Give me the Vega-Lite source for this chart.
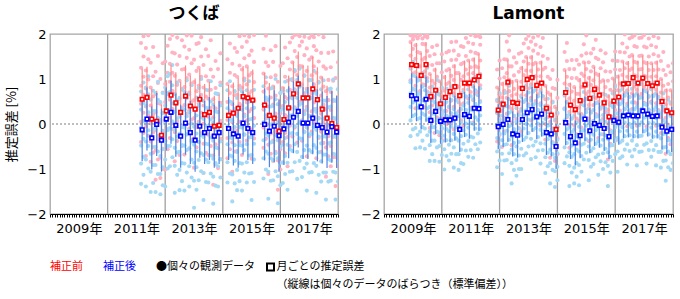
{
"$schema":"https://vega.github.io/schema/vega-lite/v6.json",
"background":"white",
"padding":{"left":5,"top":4,"right":3,"bottom":0},
"config":{
 "font":"DejaVu Sans, Noto Sans CJK JP, sans-serif",
 "view":{"stroke":"#A6A6A6","strokeWidth":1.3},
 "title":{"fontSize":17,"fontWeight":"bold","color":"#000","offset":5,"font":"DejaVu Sans, Noto Sans CJK JP, sans-serif"},
 "axis":{"labelFont":"DejaVu Sans, Noto Sans CJK JP, sans-serif","labelFontSize":13,"labelColor":"#000","grid":false,"titleFont":"Noto Sans CJK JP, sans-serif","titleFontSize":13,"titleFontWeight":"normal","titleColor":"#000"},
 "axisX":{"tickCount":{"interval":"month","step":1},"labelExpr":"utcmonth(datum.value)===0 && utcyear(datum.value)%2===1 ? utcyear(datum.value)+'年' : ''","labelOverlap":false,"labelFlush":false,"labelBound":false,"labelPadding":5,"tickSize":3,"tickColor":"#000","domainColor":"#000","domainWidth":1.2},
 "axisY":{"values":[-2,-1,0,1,2],"ticks":false,"domain":false,"labelPadding":4,"titlePadding":8}
},
"datasets":{
 "grid":[{"t":"2010-01-01"},{"t":"2012-01-01"},{"t":"2014-01-01"},{"t":"2016-01-01"}],
 "zero":[{"v":0}],
 "leg":[{"grp":"pre","ln":"1","item":"補正前"},{"grp":"post","ln":"1","item":"補正後"},{"grp":"obs","ln":"1","item":"●個々の観測データ"},{"grp":"mon","ln":"1","item":"月ごとの推定誤差"},{"grp":"mon","ln":"2","item":"（縦線は個々のデータのばらつき（標準偏差））"}],
 "sq":[
{"s":"T","t":"2011-03-15","r":0.55,"rs":0.68,"b":-0.13,"bs":0.7},
{"s":"T","t":"2011-05-15","r":0.59,"rs":0.68,"b":0.11,"bs":0.7},
{"s":"T","t":"2011-07-15","r":0.11,"rs":0.68,"b":-0.31,"bs":0.7},
{"s":"T","t":"2011-09-15","r":0.06,"rs":0.68,"b":-0.01,"bs":0.7},
{"s":"T","t":"2011-11-15","r":-0.25,"rs":0.68,"b":-0.36,"bs":0.7},
{"s":"T","t":"2012-01-15","r":0.29,"rs":0.68,"b":0.11,"bs":0.7},
{"s":"T","t":"2012-03-15","r":0.64,"rs":0.68,"b":0.26,"bs":0.7},
{"s":"T","t":"2012-05-15","r":0.47,"rs":0.68,"b":-0.03,"bs":0.7},
{"s":"T","t":"2012-07-15","r":0.26,"rs":0.68,"b":-0.27,"bs":0.7},
{"s":"T","t":"2012-09-15","r":0.62,"rs":0.68,"b":0.02,"bs":0.7},
{"s":"T","t":"2012-11-15","r":0.40,"rs":0.68,"b":-0.19,"bs":0.7},
{"s":"T","t":"2013-01-15","r":0.33,"rs":0.68,"b":-0.36,"bs":0.7},
{"s":"T","t":"2013-03-15","r":0.55,"rs":0.68,"b":-0.05,"bs":0.7},
{"s":"T","t":"2013-05-15","r":0.21,"rs":0.68,"b":-0.19,"bs":0.7},
{"s":"T","t":"2013-07-15","r":0.26,"rs":0.68,"b":-0.10,"bs":0.7},
{"s":"T","t":"2013-09-15","r":-0.05,"rs":0.68,"b":-0.27,"bs":0.7},
{"s":"T","t":"2013-11-15","r":-0.03,"rs":0.68,"b":-0.19,"bs":0.7},
{"s":"T","t":"2014-03-15","r":0.19,"rs":0.68,"b":-0.10,"bs":0.7},
{"s":"T","t":"2014-05-15","r":0.24,"rs":0.68,"b":-0.22,"bs":0.7},
{"s":"T","t":"2014-07-15","r":0.35,"rs":0.68,"b":-0.27,"bs":0.7},
{"s":"T","t":"2014-09-15","r":0.61,"rs":0.68,"b":0.02,"bs":0.7},
{"s":"T","t":"2014-11-15","r":0.58,"rs":0.68,"b":-0.10,"bs":0.7},
{"s":"T","t":"2015-01-15","r":0.53,"rs":0.68,"b":-0.19,"bs":0.7},
{"s":"T","t":"2015-06-15","r":0.42,"rs":0.72,"b":-0.01,"bs":0.8},
{"s":"T","t":"2015-08-15","r":0.19,"rs":0.72,"b":-0.16,"bs":0.8},
{"s":"T","t":"2015-10-15","r":0.13,"rs":0.72,"b":-0.05,"bs":0.8},
{"s":"T","t":"2015-12-15","r":-0.16,"rs":0.72,"b":-0.26,"bs":0.8},
{"s":"T","t":"2016-02-15","r":0.10,"rs":0.72,"b":-0.11,"bs":0.8},
{"s":"T","t":"2016-04-15","r":0.36,"rs":0.72,"b":0.04,"bs":0.8},
{"s":"T","t":"2016-06-15","r":0.67,"rs":0.72,"b":0.15,"bs":0.8},
{"s":"T","t":"2016-08-15","r":0.89,"rs":0.72,"b":0.28,"bs":0.8},
{"s":"T","t":"2016-10-15","r":0.58,"rs":0.72,"b":0.02,"bs":0.8},
{"s":"T","t":"2016-12-15","r":0.58,"rs":0.72,"b":0.02,"bs":0.8},
{"s":"T","t":"2017-02-15","r":0.78,"rs":0.72,"b":0.13,"bs":0.8},
{"s":"T","t":"2017-04-15","r":0.54,"rs":0.72,"b":-0.03,"bs":0.8},
{"s":"T","t":"2017-06-15","r":0.33,"rs":0.72,"b":-0.08,"bs":0.8},
{"s":"T","t":"2017-08-15","r":0.13,"rs":0.72,"b":-0.18,"bs":0.8},
{"s":"T","t":"2017-10-15","r":0.01,"rs":0.72,"b":-0.06,"bs":0.8},
{"s":"T","t":"2017-12-15","r":-0.08,"rs":0.72,"b":-0.18,"bs":0.8},
{"s":"L","t":"2008-12-15","r":1.32,"rs":0.5,"b":0.63,"bs":0.5},
{"s":"L","t":"2009-02-15","r":1.30,"rs":0.5,"b":0.56,"bs":0.5},
{"s":"L","t":"2009-04-15","r":1.08,"rs":0.5,"b":0.38,"bs":0.5},
{"s":"L","t":"2009-06-15","r":1.32,"rs":0.5,"b":0.55,"bs":0.5},
{"s":"L","t":"2009-08-15","r":0.61,"rs":0.5,"b":0.08,"bs":0.5},
{"s":"L","t":"2009-10-15","r":0.75,"rs":0.5,"b":0.28,"bs":0.5},
{"s":"L","t":"2009-12-15","r":0.45,"rs":0.5,"b":0.06,"bs":0.5},
{"s":"L","t":"2010-02-15","r":0.59,"rs":0.5,"b":0.09,"bs":0.5},
{"s":"L","t":"2010-04-15","r":0.72,"rs":0.5,"b":0.09,"bs":0.5},
{"s":"L","t":"2010-06-15","r":0.83,"rs":0.5,"b":0.13,"bs":0.5},
{"s":"L","t":"2010-08-15","r":0.63,"rs":0.5,"b":-0.12,"bs":0.5},
{"s":"L","t":"2010-10-15","r":0.91,"rs":0.5,"b":0.21,"bs":0.5},
{"s":"L","t":"2010-12-15","r":0.91,"rs":0.5,"b":0.17,"bs":0.5},
{"s":"L","t":"2011-02-15","r":0.98,"rs":0.5,"b":0.35,"bs":0.5},
{"s":"L","t":"2011-04-15","r":1.06,"rs":0.5,"b":0.34,"bs":0.5},
{"s":"L","t":"2011-12-15","r":0.31,"rs":0.5,"b":-0.06,"bs":0.5},
{"s":"L","t":"2012-02-15","r":0.44,"rs":0.5,"b":-0.01,"bs":0.5},
{"s":"L","t":"2012-04-15","r":0.93,"rs":0.5,"b":0.10,"bs":0.5},
{"s":"L","t":"2012-06-15","r":0.48,"rs":0.5,"b":-0.22,"bs":0.5},
{"s":"L","t":"2012-08-15","r":0.46,"rs":0.5,"b":-0.25,"bs":0.5},
{"s":"L","t":"2012-10-15","r":0.79,"rs":0.5,"b":0.10,"bs":0.5},
{"s":"L","t":"2012-12-15","r":0.99,"rs":0.5,"b":0.25,"bs":0.5},
{"s":"L","t":"2013-02-15","r":1.03,"rs":0.5,"b":0.32,"bs":0.5},
{"s":"L","t":"2013-04-15","r":0.86,"rs":0.5,"b":0.16,"bs":0.5},
{"s":"L","t":"2013-06-15","r":0.91,"rs":0.5,"b":0.22,"bs":0.5},
{"s":"L","t":"2013-08-15","r":0.35,"rs":0.5,"b":-0.19,"bs":0.5},
{"s":"L","t":"2013-10-15","r":0.20,"rs":0.5,"b":-0.22,"bs":0.5},
{"s":"L","t":"2013-12-15","r":-0.12,"rs":0.5,"b":-0.50,"bs":0.5},
{"s":"L","t":"2014-04-15","r":0.70,"rs":0.5,"b":0.03,"bs":0.5},
{"s":"L","t":"2014-06-15","r":0.42,"rs":0.5,"b":-0.28,"bs":0.5},
{"s":"L","t":"2014-08-15","r":0.32,"rs":0.5,"b":-0.42,"bs":0.5},
{"s":"L","t":"2014-10-15","r":0.52,"rs":0.5,"b":-0.26,"bs":0.5},
{"s":"L","t":"2014-12-15","r":0.87,"rs":0.5,"b":0.11,"bs":0.5},
{"s":"L","t":"2015-02-15","r":0.57,"rs":0.5,"b":-0.15,"bs":0.5},
{"s":"L","t":"2015-04-15","r":0.77,"rs":0.5,"b":0.01,"bs":0.5},
{"s":"L","t":"2015-06-15","r":0.64,"rs":0.5,"b":-0.03,"bs":0.5},
{"s":"L","t":"2015-08-15","r":0.47,"rs":0.5,"b":-0.10,"bs":0.5},
{"s":"L","t":"2015-10-15","r":0.16,"rs":0.5,"b":-0.28,"bs":0.5},
{"s":"L","t":"2015-12-15","r":0.51,"rs":0.5,"b":0.08,"bs":0.5},
{"s":"L","t":"2016-02-15","r":0.60,"rs":0.5,"b":0.04,"bs":0.5},
{"s":"L","t":"2016-04-15","r":0.89,"rs":0.5,"b":0.18,"bs":0.5},
{"s":"L","t":"2016-06-15","r":0.90,"rs":0.5,"b":0.20,"bs":0.5},
{"s":"L","t":"2016-08-15","r":1.03,"rs":0.5,"b":0.18,"bs":0.5},
{"s":"L","t":"2016-10-15","r":0.91,"rs":0.5,"b":0.18,"bs":0.5},
{"s":"L","t":"2016-12-15","r":1.02,"rs":0.5,"b":0.29,"bs":0.5},
{"s":"L","t":"2017-02-15","r":0.90,"rs":0.5,"b":0.22,"bs":0.5},
{"s":"L","t":"2017-04-15","r":0.85,"rs":0.5,"b":0.17,"bs":0.5},
{"s":"L","t":"2017-06-15","r":0.91,"rs":0.5,"b":0.18,"bs":0.5},
{"s":"L","t":"2017-08-15","r":0.50,"rs":0.5,"b":-0.07,"bs":0.5},
{"s":"L","t":"2017-10-15","r":0.29,"rs":0.5,"b":-0.16,"bs":0.5},
{"s":"L","t":"2017-12-15","r":0.25,"rs":0.5,"b":-0.12,"bs":0.5}
 ],
 "dots":[
{"s":"T","t":"2011-03-01","r":[1.80,1.25,0.85,0.45,0.05,-0.40],"b":[0.72,0.32,-0.08,-0.48,-0.88,-1.33]},
{"s":"T","t":"2011-04-01","r":[1.50,1.05,0.65,0.25,-0.20,1.95],"b":[0.92,0.47,0.07,-0.33,-0.73,-1.13]},
{"s":"T","t":"2011-05-01","r":[1.69,1.19,0.79,0.39,-0.06,-0.71],"b":[0.81,0.41,0.01,-0.39,-0.79,-1.39]},
{"s":"T","t":"2011-06-01","r":[1.44,0.99,0.59,0.19,-0.26,1.97],"b":[1.06,0.66,0.26,-0.14,-0.49,-0.99]},
{"s":"T","t":"2011-07-01","r":[1.36,0.81,0.41,0.01,-0.39,-0.84],"b":[0.54,0.14,-0.26,-0.66,-1.06,-1.51]},
{"s":"T","t":"2011-08-01","r":[1.06,0.61,0.21,-0.19,-0.64,1.71],"b":[0.74,0.29,-0.11,-0.51,-0.91,-1.31]},
{"s":"T","t":"2011-09-01","r":[1.16,0.66,0.26,-0.14,-0.59,-1.24],"b":[0.69,0.29,-0.11,-0.51,-0.91,-1.51]},
{"s":"T","t":"2011-10-01","r":[0.91,0.46,0.06,-0.34,-0.79,1.51],"b":[0.94,0.54,0.14,-0.26,-0.61,-1.11]},
{"s":"T","t":"2011-11-01","r":[1.00,0.45,0.05,-0.35,-0.75,-1.20],"b":[0.49,0.09,-0.31,-0.71,-1.11,-1.56]},
{"s":"T","t":"2011-12-01","r":[0.70,0.25,-0.15,-0.55,-1.00,1.35],"b":[0.69,0.24,-0.16,-0.56,-0.96,-1.36]},
{"s":"T","t":"2012-01-01","r":[1.39,0.89,0.49,0.09,-0.36,-1.01],"b":[0.81,0.41,0.01,-0.39,-0.79,-1.39]},
{"s":"T","t":"2012-02-01","r":[1.14,0.69,0.29,-0.11,-0.56,1.74],"b":[1.06,0.66,0.26,-0.14,-0.49,-0.99]},
{"s":"T","t":"2012-03-01","r":[1.89,1.34,0.94,0.54,0.14,-0.31],"b":[1.11,0.71,0.31,-0.09,-0.49,-0.94]},
{"s":"T","t":"2012-04-01","r":[1.59,1.14,0.74,0.34,-0.11,1.98],"b":[1.31,0.86,0.46,0.06,-0.34,-0.74]},
{"s":"T","t":"2012-05-01","r":[1.57,1.07,0.67,0.27,-0.18,-0.83],"b":[0.67,0.27,-0.13,-0.53,-0.93,-1.53]},
{"s":"T","t":"2012-06-01","r":[1.32,0.87,0.47,0.07,-0.38,1.92],"b":[0.92,0.52,0.12,-0.28,-0.63,-1.13]},
{"s":"T","t":"2012-07-01","r":[1.51,0.96,0.56,0.16,-0.24,-0.69],"b":[0.58,0.18,-0.22,-0.62,-1.02,-1.47]},
{"s":"T","t":"2012-08-01","r":[1.21,0.76,0.36,-0.04,-0.49,1.86],"b":[0.78,0.33,-0.07,-0.47,-0.87,-1.27]},
{"s":"T","t":"2012-09-01","r":[1.72,1.22,0.82,0.42,-0.03,-0.68],"b":[0.72,0.32,-0.08,-0.48,-0.88,-1.48]},
{"s":"T","t":"2012-10-01","r":[1.47,1.02,0.62,0.22,-0.23,1.97],"b":[0.97,0.57,0.17,-0.23,-0.58,-1.08]},
{"s":"T","t":"2012-11-01","r":[1.65,1.10,0.70,0.30,-0.10,-0.55],"b":[0.66,0.26,-0.14,-0.54,-0.94,-1.39]},
{"s":"T","t":"2012-12-01","r":[1.35,0.90,0.50,0.10,-0.35,1.96],"b":[0.86,0.41,0.01,-0.39,-0.79,-1.19]},
{"s":"T","t":"2013-01-01","r":[1.43,0.93,0.53,0.13,-0.32,-0.97],"b":[0.34,-0.06,-0.46,-0.86,-1.26,-1.86]},
{"s":"T","t":"2013-02-01","r":[1.18,0.73,0.33,-0.07,-0.52,1.78],"b":[0.59,0.19,-0.21,-0.61,-0.96,-1.46]},
{"s":"T","t":"2013-03-01","r":[1.80,1.25,0.85,0.45,0.05,-0.40],"b":[0.80,0.40,0.00,-0.40,-0.80,-1.25]},
{"s":"T","t":"2013-04-01","r":[1.50,1.05,0.65,0.25,-0.20,1.93],"b":[1.00,0.55,0.15,-0.25,-0.65,-1.05]},
{"s":"T","t":"2013-05-01","r":[1.31,0.81,0.41,0.01,-0.44,-1.09],"b":[0.51,0.11,-0.29,-0.69,-1.09,-1.69]},
{"s":"T","t":"2013-06-01","r":[1.06,0.61,0.21,-0.19,-0.64,1.66],"b":[0.76,0.36,-0.04,-0.44,-0.79,-1.29]},
{"s":"T","t":"2013-07-01","r":[1.51,0.96,0.56,0.16,-0.24,-0.69],"b":[0.75,0.35,-0.05,-0.45,-0.85,-1.30]},
{"s":"T","t":"2013-08-01","r":[1.21,0.76,0.36,-0.04,-0.49,1.86],"b":[0.95,0.50,0.10,-0.30,-0.70,-1.10]},
{"s":"T","t":"2013-09-01","r":[1.05,0.55,0.15,-0.25,-0.70,-1.35],"b":[0.43,0.03,-0.37,-0.77,-1.17,-1.77]},
{"s":"T","t":"2013-10-01","r":[0.80,0.35,-0.05,-0.45,-0.90,1.40],"b":[0.68,0.28,-0.12,-0.52,-0.87,-1.37]},
{"s":"T","t":"2013-11-01","r":[1.22,0.67,0.27,-0.13,-0.53,-0.98],"b":[0.66,0.26,-0.14,-0.54,-0.94,-1.39]},
{"s":"T","t":"2013-12-01","r":[0.92,0.47,0.07,-0.33,-0.78,1.57],"b":[0.86,0.41,0.01,-0.39,-0.79,-1.19]},
{"s":"T","t":"2014-03-01","r":[1.44,0.89,0.49,0.09,-0.31,-0.76],"b":[0.75,0.35,-0.05,-0.45,-0.85,-1.30]},
{"s":"T","t":"2014-04-01","r":[1.14,0.69,0.29,-0.11,-0.56,1.79],"b":[0.95,0.50,0.10,-0.30,-0.70,-1.10]},
{"s":"T","t":"2014-05-01","r":[1.34,0.84,0.44,0.04,-0.41,-1.06],"b":[0.48,0.08,-0.32,-0.72,-1.12,-1.72]},
{"s":"T","t":"2014-06-01","r":[1.09,0.64,0.24,-0.16,-0.61,1.69],"b":[0.73,0.33,-0.07,-0.47,-0.82,-1.32]},
{"s":"T","t":"2014-07-01","r":[1.60,1.05,0.65,0.25,-0.15,-0.60],"b":[0.58,0.18,-0.22,-0.62,-1.02,-1.47]},
{"s":"T","t":"2014-08-01","r":[1.30,0.85,0.45,0.05,-0.40,1.95],"b":[0.78,0.33,-0.07,-0.47,-0.87,-1.27]},
{"s":"T","t":"2014-09-01","r":[1.71,1.21,0.81,0.41,-0.04,-0.69],"b":[0.72,0.32,-0.08,-0.48,-0.88,-1.48]},
{"s":"T","t":"2014-10-01","r":[1.46,1.01,0.61,0.21,-0.24,1.97],"b":[0.97,0.57,0.17,-0.23,-0.58,-1.08]},
{"s":"T","t":"2014-11-01","r":[1.83,1.28,0.88,0.48,0.08,-0.37],"b":[0.75,0.35,-0.05,-0.45,-0.85,-1.30]},
{"s":"T","t":"2014-12-01","r":[1.53,1.08,0.68,0.28,-0.17,1.94],"b":[0.95,0.50,0.10,-0.30,-0.70,-1.10]},
{"s":"T","t":"2015-01-01","r":[1.63,1.13,0.73,0.33,-0.12,-0.77],"b":[0.51,0.11,-0.29,-0.69,-1.09,-1.69]},
{"s":"T","t":"2015-02-01","r":[1.38,0.93,0.53,0.13,-0.32,1.98],"b":[0.76,0.36,-0.04,-0.44,-0.79,-1.29]},
{"s":"T","t":"2015-06-01","r":[1.67,1.12,0.72,0.32,-0.08,-0.53],"b":[0.84,0.44,0.04,-0.36,-0.76,-1.21]},
{"s":"T","t":"2015-07-01","r":[1.37,0.92,0.52,0.12,-0.33,1.96],"b":[1.04,0.59,0.19,-0.21,-0.61,-1.01]},
{"s":"T","t":"2015-08-01","r":[1.29,0.79,0.39,-0.01,-0.46,-1.11],"b":[0.54,0.14,-0.26,-0.66,-1.06,-1.66]},
{"s":"T","t":"2015-09-01","r":[1.04,0.59,0.19,-0.21,-0.66,1.64],"b":[0.79,0.39,-0.01,-0.41,-0.76,-1.26]},
{"s":"T","t":"2015-10-01","r":[1.38,0.83,0.43,0.03,-0.37,-0.82],"b":[0.80,0.40,0.00,-0.40,-0.80,-1.25]},
{"s":"T","t":"2015-11-01","r":[1.08,0.63,0.23,-0.17,-0.62,1.73],"b":[1.00,0.55,0.15,-0.25,-0.65,-1.05]},
{"s":"T","t":"2015-12-01","r":[0.94,0.44,0.04,-0.36,-0.81,-1.46],"b":[0.44,0.04,-0.36,-0.76,-1.16,-1.76]},
{"s":"T","t":"2016-01-01","r":[0.69,0.24,-0.16,-0.56,-1.01,1.29],"b":[0.69,0.29,-0.11,-0.51,-0.86,-1.36]},
{"s":"T","t":"2016-02-01","r":[1.35,0.80,0.40,0.00,-0.40,-0.85],"b":[0.74,0.34,-0.06,-0.46,-0.86,-1.31]},
{"s":"T","t":"2016-03-01","r":[1.05,0.60,0.20,-0.20,-0.65,1.70],"b":[0.94,0.49,0.09,-0.31,-0.71,-1.11]},
{"s":"T","t":"2016-04-01","r":[1.46,0.96,0.56,0.16,-0.29,-0.94],"b":[0.74,0.34,-0.06,-0.46,-0.86,-1.46]},
{"s":"T","t":"2016-05-01","r":[1.21,0.76,0.36,-0.04,-0.49,1.81],"b":[0.99,0.59,0.19,-0.21,-0.56,-1.06]},
{"s":"T","t":"2016-06-01","r":[1.92,1.37,0.97,0.57,0.17,-0.28],"b":[1.00,0.60,0.20,-0.20,-0.60,-1.05]},
{"s":"T","t":"2016-07-01","r":[1.62,1.17,0.77,0.37,-0.08,1.98],"b":[1.20,0.75,0.35,-0.05,-0.45,-0.85]},
{"s":"T","t":"2016-08-01","r":[1.99,1.49,1.09,0.69,0.24,-0.41],"b":[0.98,0.58,0.18,-0.22,-0.62,-1.22]},
{"s":"T","t":"2016-09-01","r":[1.74,1.29,0.89,0.49,0.04,1.95],"b":[1.23,0.83,0.43,0.03,-0.32,-0.82]},
{"s":"T","t":"2016-10-01","r":[1.83,1.28,0.88,0.48,0.08,-0.37],"b":[0.87,0.47,0.07,-0.33,-0.73,-1.18]},
{"s":"T","t":"2016-11-01","r":[1.53,1.08,0.68,0.28,-0.17,1.94],"b":[1.07,0.62,0.22,-0.18,-0.58,-0.98]},
{"s":"T","t":"2016-12-01","r":[1.68,1.18,0.78,0.38,-0.07,-0.72],"b":[0.72,0.32,-0.08,-0.48,-0.88,-1.48]},
{"s":"T","t":"2017-01-01","r":[1.43,0.98,0.58,0.18,-0.27,1.91],"b":[0.97,0.57,0.17,-0.23,-0.58,-1.08]},
{"s":"T","t":"2017-02-01","r":[1.97,1.48,1.08,0.68,0.28,-0.17],"b":[0.98,0.58,0.18,-0.22,-0.62,-1.07]},
{"s":"T","t":"2017-03-01","r":[1.73,1.28,0.88,0.48,0.03,1.93],"b":[1.18,0.73,0.33,-0.07,-0.47,-0.87]},
{"s":"T","t":"2017-04-01","r":[1.64,1.14,0.74,0.34,-0.11,-0.76],"b":[0.67,0.27,-0.13,-0.53,-0.93,-1.53]},
{"s":"T","t":"2017-05-01","r":[1.39,0.94,0.54,0.14,-0.31,1.99],"b":[0.92,0.52,0.12,-0.28,-0.63,-1.13]},
{"s":"T","t":"2017-06-01","r":[1.58,1.03,0.63,0.23,-0.17,-0.62],"b":[0.77,0.37,-0.03,-0.43,-0.83,-1.28]},
{"s":"T","t":"2017-07-01","r":[1.28,0.83,0.43,0.03,-0.42,1.93],"b":[0.97,0.52,0.12,-0.28,-0.68,-1.08]},
{"s":"T","t":"2017-08-01","r":[1.23,0.73,0.33,-0.07,-0.52,-1.17],"b":[0.52,0.12,-0.28,-0.68,-1.08,-1.68]},
{"s":"T","t":"2017-09-01","r":[0.98,0.53,0.13,-0.27,-0.72,1.58],"b":[0.77,0.37,-0.03,-0.43,-0.78,-1.28]},
{"s":"T","t":"2017-10-01","r":[1.26,0.71,0.31,-0.09,-0.49,-0.94],"b":[0.79,0.39,-0.01,-0.41,-0.81,-1.26]},
{"s":"T","t":"2017-11-01","r":[0.96,0.51,0.11,-0.29,-0.74,1.61],"b":[0.99,0.54,0.14,-0.26,-0.66,-1.06]},
{"s":"T","t":"2017-12-01","r":[1.02,0.52,0.12,-0.28,-0.73,-1.38],"b":[0.52,0.12,-0.28,-0.68,-1.08,-1.68]},
{"s":"T","t":"2018-01-01","r":[0.77,0.32,-0.08,-0.48,-0.93,1.37],"b":[0.77,0.37,-0.03,-0.43,-0.78,-1.28]},
{"s":"L","t":"2008-12-01","r":[1.97,1.82,1.52,1.27,0.97,0.62],"b":[1.23,0.93,0.68,0.38,0.08,-0.27]},
{"s":"L","t":"2009-01-01","r":[1.95,1.67,1.37,1.12,0.77,1.88],"b":[1.38,1.08,0.78,0.48,0.18,-0.12]},
{"s":"L","t":"2009-02-01","r":[1.96,1.75,1.45,1.15,0.85,0.35],"b":[1.06,0.76,0.51,0.21,-0.09,-0.54]},
{"s":"L","t":"2009-03-01","r":[1.90,1.60,1.30,1.00,0.70,1.92],"b":[1.26,0.96,0.66,0.36,0.11,-0.24]},
{"s":"L","t":"2009-04-01","r":[1.98,1.58,1.28,1.03,0.73,0.38],"b":[0.98,0.68,0.43,0.13,-0.17,-0.52]},
{"s":"L","t":"2009-05-01","r":[1.78,1.43,1.13,0.88,0.53,1.90],"b":[1.13,0.83,0.53,0.23,-0.07,-0.37]},
{"s":"L","t":"2009-06-01","r":[1.95,1.77,1.47,1.17,0.87,0.37],"b":[1.05,0.75,0.50,0.20,-0.10,-0.55]},
{"s":"L","t":"2009-07-01","r":[1.92,1.62,1.32,1.02,0.72,1.97],"b":[1.25,0.95,0.65,0.35,0.10,-0.25]},
{"s":"L","t":"2009-08-01","r":[1.51,1.11,0.81,0.56,0.26,-0.09],"b":[0.68,0.38,0.13,-0.17,-0.47,-0.82]},
{"s":"L","t":"2009-09-01","r":[1.31,0.96,0.66,0.41,0.06,1.71],"b":[0.83,0.53,0.23,-0.07,-0.37,-0.67]},
{"s":"L","t":"2009-10-01","r":[1.55,1.20,0.90,0.60,0.30,-0.20],"b":[0.78,0.48,0.23,-0.07,-0.37,-0.82]},
{"s":"L","t":"2009-11-01","r":[1.35,1.05,0.75,0.45,0.15,1.75],"b":[0.98,0.68,0.38,0.08,-0.17,-0.52]},
{"s":"L","t":"2009-12-01","r":[1.35,0.95,0.65,0.40,0.10,-0.25],"b":[0.66,0.36,0.11,-0.19,-0.49,-0.84]},
{"s":"L","t":"2010-01-01","r":[1.15,0.80,0.50,0.25,-0.10,1.55],"b":[0.81,0.51,0.21,-0.09,-0.39,-0.69]},
{"s":"L","t":"2010-02-01","r":[1.39,1.04,0.74,0.44,0.14,-0.36],"b":[0.59,0.29,0.04,-0.26,-0.56,-1.01]},
{"s":"L","t":"2010-03-01","r":[1.19,0.89,0.59,0.29,-0.01,1.59],"b":[0.79,0.49,0.19,-0.11,-0.36,-0.71]},
{"s":"L","t":"2010-04-01","r":[1.62,1.22,0.92,0.67,0.37,0.02],"b":[0.69,0.39,0.14,-0.16,-0.46,-0.81]},
{"s":"L","t":"2010-05-01","r":[1.42,1.07,0.77,0.52,0.17,1.82],"b":[0.84,0.54,0.24,-0.06,-0.36,-0.66]},
{"s":"L","t":"2010-06-01","r":[1.63,1.28,0.98,0.68,0.38,-0.12],"b":[0.63,0.33,0.08,-0.22,-0.52,-0.97]},
{"s":"L","t":"2010-07-01","r":[1.43,1.13,0.83,0.53,0.23,1.83],"b":[0.83,0.53,0.23,-0.07,-0.32,-0.67]},
{"s":"L","t":"2010-08-01","r":[1.53,1.13,0.83,0.58,0.28,-0.07],"b":[0.48,0.18,-0.07,-0.37,-0.67,-1.02]},
{"s":"L","t":"2010-09-01","r":[1.33,0.98,0.68,0.43,0.08,1.73],"b":[0.63,0.33,0.03,-0.27,-0.57,-0.87]},
{"s":"L","t":"2010-10-01","r":[1.71,1.36,1.06,0.76,0.46,-0.04],"b":[0.71,0.41,0.16,-0.14,-0.44,-0.89]},
{"s":"L","t":"2010-11-01","r":[1.51,1.21,0.91,0.61,0.31,1.91],"b":[0.91,0.61,0.31,0.01,-0.24,-0.59]},
{"s":"L","t":"2010-12-01","r":[1.81,1.41,1.11,0.86,0.56,0.21],"b":[0.77,0.47,0.22,-0.08,-0.38,-0.73]},
{"s":"L","t":"2011-01-01","r":[1.61,1.26,0.96,0.71,0.36,1.98],"b":[0.92,0.62,0.32,0.02,-0.28,-0.58]},
{"s":"L","t":"2011-02-01","r":[1.78,1.43,1.13,0.83,0.53,0.03],"b":[0.85,0.55,0.30,0.00,-0.30,-0.75]},
{"s":"L","t":"2011-03-01","r":[1.58,1.28,0.98,0.68,0.38,1.95],"b":[1.05,0.75,0.45,0.15,-0.10,-0.45]},
{"s":"L","t":"2011-04-01","r":[1.96,1.56,1.26,1.01,0.71,0.36],"b":[0.94,0.64,0.39,0.09,-0.21,-0.56]},
{"s":"L","t":"2011-05-01","r":[1.76,1.41,1.11,0.86,0.51,1.93],"b":[1.09,0.79,0.49,0.19,-0.11,-0.41]},
{"s":"L","t":"2011-12-01","r":[1.21,0.81,0.51,0.26,-0.04,-0.39],"b":[0.54,0.24,-0.01,-0.31,-0.61,-0.96]},
{"s":"L","t":"2012-01-01","r":[1.01,0.66,0.36,0.11,-0.24,1.41],"b":[0.69,0.39,0.09,-0.21,-0.51,-0.81]},
{"s":"L","t":"2012-02-01","r":[1.24,0.89,0.59,0.29,-0.01,-0.51],"b":[0.49,0.19,-0.06,-0.36,-0.66,-1.11]},
{"s":"L","t":"2012-03-01","r":[1.04,0.74,0.44,0.14,-0.16,1.44],"b":[0.69,0.39,0.09,-0.21,-0.46,-0.81]},
{"s":"L","t":"2012-04-01","r":[1.83,1.43,1.13,0.88,0.58,0.23],"b":[0.70,0.40,0.15,-0.15,-0.45,-0.80]},
{"s":"L","t":"2012-05-01","r":[1.63,1.28,0.98,0.73,0.38,1.97],"b":[0.85,0.55,0.25,-0.05,-0.35,-0.65]},
{"s":"L","t":"2012-06-01","r":[1.28,0.93,0.63,0.33,0.03,-0.47],"b":[0.28,-0.02,-0.27,-0.57,-0.87,-1.32]},
{"s":"L","t":"2012-07-01","r":[1.08,0.78,0.48,0.18,-0.12,1.48],"b":[0.48,0.18,-0.12,-0.42,-0.67,-1.02]},
{"s":"L","t":"2012-08-01","r":[1.36,0.96,0.66,0.41,0.11,-0.24],"b":[0.35,0.05,-0.20,-0.50,-0.80,-1.15]},
{"s":"L","t":"2012-09-01","r":[1.16,0.81,0.51,0.26,-0.09,1.56],"b":[0.50,0.20,-0.10,-0.40,-0.70,-1.00]},
{"s":"L","t":"2012-10-01","r":[1.59,1.24,0.94,0.64,0.34,-0.16],"b":[0.60,0.30,0.05,-0.25,-0.55,-1.00]},
{"s":"L","t":"2012-11-01","r":[1.39,1.09,0.79,0.49,0.19,1.79],"b":[0.80,0.50,0.20,-0.10,-0.35,-0.70]},
{"s":"L","t":"2012-12-01","r":[1.89,1.49,1.19,0.94,0.64,0.29],"b":[0.85,0.55,0.30,0.00,-0.30,-0.65]},
{"s":"L","t":"2013-01-01","r":[1.69,1.34,1.04,0.79,0.44,1.96],"b":[1.00,0.70,0.40,0.10,-0.20,-0.50]},
{"s":"L","t":"2013-02-01","r":[1.83,1.48,1.18,0.88,0.58,0.08],"b":[0.82,0.52,0.27,-0.03,-0.33,-0.78]},
{"s":"L","t":"2013-03-01","r":[1.63,1.33,1.03,0.73,0.43,1.92],"b":[1.02,0.72,0.42,0.12,-0.13,-0.48]},
{"s":"L","t":"2013-04-01","r":[1.76,1.36,1.06,0.81,0.51,0.16],"b":[0.76,0.46,0.21,-0.09,-0.39,-0.74]},
{"s":"L","t":"2013-05-01","r":[1.56,1.21,0.91,0.66,0.31,1.96],"b":[0.91,0.61,0.31,0.01,-0.29,-0.59]},
{"s":"L","t":"2013-06-01","r":[1.71,1.36,1.06,0.76,0.46,-0.04],"b":[0.72,0.42,0.17,-0.13,-0.43,-0.88]},
{"s":"L","t":"2013-07-01","r":[1.51,1.21,0.91,0.61,0.31,1.91],"b":[0.92,0.62,0.32,0.02,-0.23,-0.58]},
{"s":"L","t":"2013-08-01","r":[1.25,0.85,0.55,0.30,0.00,-0.35],"b":[0.41,0.11,-0.14,-0.44,-0.74,-1.09]},
{"s":"L","t":"2013-09-01","r":[1.05,0.70,0.40,0.15,-0.20,1.45],"b":[0.56,0.26,-0.04,-0.34,-0.64,-0.94]},
{"s":"L","t":"2013-10-01","r":[1.00,0.65,0.35,0.05,-0.25,-0.75],"b":[0.28,-0.02,-0.27,-0.57,-0.87,-1.32]},
{"s":"L","t":"2013-11-01","r":[0.80,0.50,0.20,-0.10,-0.40,1.20],"b":[0.48,0.18,-0.12,-0.42,-0.67,-1.02]},
{"s":"L","t":"2013-12-01","r":[0.78,0.38,0.08,-0.17,-0.47,-0.82],"b":[0.10,-0.20,-0.45,-0.75,-1.05,-1.40]},
{"s":"L","t":"2014-01-01","r":[0.58,0.23,-0.07,-0.32,-0.67,0.98],"b":[0.25,-0.05,-0.35,-0.65,-0.95,-1.25]},
{"s":"L","t":"2014-04-01","r":[1.60,1.20,0.90,0.65,0.35,0.00],"b":[0.63,0.33,0.08,-0.22,-0.52,-0.87]},
{"s":"L","t":"2014-05-01","r":[1.40,1.05,0.75,0.50,0.15,1.80],"b":[0.78,0.48,0.18,-0.12,-0.42,-0.72]},
{"s":"L","t":"2014-06-01","r":[1.22,0.87,0.57,0.27,-0.03,-0.53],"b":[0.22,-0.08,-0.33,-0.63,-0.93,-1.38]},
{"s":"L","t":"2014-07-01","r":[1.02,0.72,0.42,0.12,-0.18,1.42],"b":[0.42,0.12,-0.18,-0.48,-0.73,-1.08]},
{"s":"L","t":"2014-08-01","r":[1.22,0.82,0.52,0.27,-0.03,-0.38],"b":[0.18,-0.12,-0.37,-0.67,-0.97,-1.32]},
{"s":"L","t":"2014-09-01","r":[1.02,0.67,0.37,0.12,-0.23,1.42],"b":[0.33,0.03,-0.27,-0.57,-0.87,-1.17]},
{"s":"L","t":"2014-10-01","r":[1.32,0.97,0.67,0.37,0.07,-0.43],"b":[0.24,-0.06,-0.31,-0.61,-0.91,-1.36]},
{"s":"L","t":"2014-11-01","r":[1.12,0.82,0.52,0.22,-0.08,1.52],"b":[0.44,0.14,-0.16,-0.46,-0.71,-1.06]},
{"s":"L","t":"2014-12-01","r":[1.77,1.37,1.07,0.82,0.52,0.17],"b":[0.71,0.41,0.16,-0.14,-0.44,-0.79]},
{"s":"L","t":"2015-01-01","r":[1.57,1.22,0.92,0.67,0.32,1.97],"b":[0.86,0.56,0.26,-0.04,-0.34,-0.64]},
{"s":"L","t":"2015-02-01","r":[1.37,1.02,0.72,0.42,0.12,-0.38],"b":[0.35,0.05,-0.20,-0.50,-0.80,-1.25]},
{"s":"L","t":"2015-03-01","r":[1.17,0.87,0.57,0.27,-0.03,1.57],"b":[0.55,0.25,-0.05,-0.35,-0.60,-0.95]},
{"s":"L","t":"2015-04-01","r":[1.67,1.27,0.97,0.72,0.42,0.07],"b":[0.61,0.31,0.06,-0.24,-0.54,-0.89]},
{"s":"L","t":"2015-05-01","r":[1.47,1.12,0.82,0.57,0.22,1.87],"b":[0.76,0.46,0.16,-0.14,-0.44,-0.74]},
{"s":"L","t":"2015-06-01","r":[1.44,1.09,0.79,0.49,0.19,-0.31],"b":[0.47,0.17,-0.08,-0.38,-0.68,-1.13]},
{"s":"L","t":"2015-07-01","r":[1.24,0.94,0.64,0.34,0.04,1.64],"b":[0.67,0.37,0.07,-0.23,-0.48,-0.83]},
{"s":"L","t":"2015-08-01","r":[1.37,0.97,0.67,0.42,0.12,-0.23],"b":[0.50,0.20,-0.05,-0.35,-0.65,-1.00]},
{"s":"L","t":"2015-09-01","r":[1.17,0.82,0.52,0.27,-0.08,1.57],"b":[0.65,0.35,0.05,-0.25,-0.55,-0.85]},
{"s":"L","t":"2015-10-01","r":[0.96,0.61,0.31,0.01,-0.29,-0.79],"b":[0.22,-0.08,-0.33,-0.63,-0.93,-1.38]},
{"s":"L","t":"2015-11-01","r":[0.76,0.46,0.16,-0.14,-0.44,1.16],"b":[0.42,0.12,-0.18,-0.48,-0.73,-1.08]},
{"s":"L","t":"2015-12-01","r":[1.41,1.01,0.71,0.46,0.16,-0.19],"b":[0.68,0.38,0.13,-0.17,-0.47,-0.82]},
{"s":"L","t":"2016-01-01","r":[1.21,0.86,0.56,0.31,-0.04,1.61],"b":[0.83,0.53,0.23,-0.07,-0.37,-0.67]},
{"s":"L","t":"2016-02-01","r":[1.40,1.05,0.75,0.45,0.15,-0.35],"b":[0.54,0.24,-0.01,-0.31,-0.61,-1.06]},
{"s":"L","t":"2016-03-01","r":[1.20,0.90,0.60,0.30,0.00,1.60],"b":[0.74,0.44,0.14,-0.16,-0.41,-0.76]},
{"s":"L","t":"2016-04-01","r":[1.79,1.39,1.09,0.84,0.54,0.19],"b":[0.78,0.48,0.23,-0.07,-0.37,-0.72]},
{"s":"L","t":"2016-05-01","r":[1.59,1.24,0.94,0.69,0.34,1.99],"b":[0.93,0.63,0.33,0.03,-0.27,-0.57]},
{"s":"L","t":"2016-06-01","r":[1.70,1.35,1.05,0.75,0.45,-0.05],"b":[0.70,0.40,0.15,-0.15,-0.45,-0.90]},
{"s":"L","t":"2016-07-01","r":[1.50,1.20,0.90,0.60,0.30,1.90],"b":[0.90,0.60,0.30,0.00,-0.25,-0.60]},
{"s":"L","t":"2016-08-01","r":[1.93,1.53,1.23,0.98,0.68,0.33],"b":[0.78,0.48,0.23,-0.07,-0.37,-0.72]},
{"s":"L","t":"2016-09-01","r":[1.73,1.38,1.08,0.83,0.48,1.97],"b":[0.93,0.63,0.33,0.03,-0.27,-0.57]},
{"s":"L","t":"2016-10-01","r":[1.71,1.36,1.06,0.76,0.46,-0.04],"b":[0.68,0.38,0.13,-0.17,-0.47,-0.92]},
{"s":"L","t":"2016-11-01","r":[1.51,1.21,0.91,0.61,0.31,1.91],"b":[0.88,0.58,0.28,-0.02,-0.27,-0.62]},
{"s":"L","t":"2016-12-01","r":[1.92,1.52,1.22,0.97,0.67,0.32],"b":[0.89,0.59,0.34,0.04,-0.26,-0.61]},
{"s":"L","t":"2017-01-01","r":[1.72,1.37,1.07,0.82,0.47,1.98],"b":[1.04,0.74,0.44,0.14,-0.16,-0.46]},
{"s":"L","t":"2017-02-01","r":[1.70,1.35,1.05,0.75,0.45,-0.05],"b":[0.72,0.42,0.17,-0.13,-0.43,-0.88]},
{"s":"L","t":"2017-03-01","r":[1.50,1.20,0.90,0.60,0.30,1.90],"b":[0.92,0.62,0.32,0.02,-0.23,-0.58]},
{"s":"L","t":"2017-04-01","r":[1.75,1.35,1.05,0.80,0.50,0.15],"b":[0.77,0.47,0.22,-0.08,-0.38,-0.73]},
{"s":"L","t":"2017-05-01","r":[1.55,1.20,0.90,0.65,0.30,1.95],"b":[0.92,0.62,0.32,0.02,-0.28,-0.58]},
{"s":"L","t":"2017-06-01","r":[1.71,1.36,1.06,0.76,0.46,-0.04],"b":[0.68,0.38,0.13,-0.17,-0.47,-0.92]},
{"s":"L","t":"2017-07-01","r":[1.51,1.21,0.91,0.61,0.31,1.91],"b":[0.88,0.58,0.28,-0.02,-0.27,-0.62]},
{"s":"L","t":"2017-08-01","r":[1.40,1.00,0.70,0.45,0.15,-0.20],"b":[0.53,0.23,-0.02,-0.32,-0.62,-0.97]},
{"s":"L","t":"2017-09-01","r":[1.20,0.85,0.55,0.30,-0.05,1.60],"b":[0.68,0.38,0.08,-0.22,-0.52,-0.82]},
{"s":"L","t":"2017-10-01","r":[1.09,0.74,0.44,0.14,-0.16,-0.66],"b":[0.34,0.04,-0.21,-0.51,-0.81,-1.26]},
{"s":"L","t":"2017-11-01","r":[0.89,0.59,0.29,-0.01,-0.31,1.29],"b":[0.54,0.24,-0.06,-0.36,-0.61,-0.96]},
{"s":"L","t":"2017-12-01","r":[1.15,0.75,0.45,0.20,-0.10,-0.45],"b":[0.48,0.18,-0.07,-0.37,-0.67,-1.02]},
{"s":"L","t":"2018-01-01","r":[0.95,0.60,0.30,0.05,-0.30,1.35],"b":[0.63,0.33,0.03,-0.27,-0.57,-0.87]}
 ]
},
"vconcat":[
 {"hconcat":[
  {"width":288,"height":180,"title":"つくば",
   "layer":[
    {"data":{"name":"grid"},"mark":{"type":"rule","color":"#A0A0A0","strokeWidth":1.3},
     "encoding":{"x":{"field":"t","type":"temporal","title":null,"scale":{"type":"utc","domain":[{"year":2008,"month":1,"date":1,"utc":true},{"year":2018,"month":1,"date":1,"utc":true}]}}}},
    {"data":{"name":"dots"},"transform":[{"filter":"datum.s==='T'"},{"flatten":["r"]}],"mark":{"type":"circle","size":17,"opacity":1,"color":"#FFB2C2","clip":true},
     "encoding":{"x":{"field":"t","type":"temporal","title":null},"y":{"field":"r","type":"quantitative","title":"推定誤差 [%]","scale":{"domain":[-2,2],"nice":false}}}},
    {"data":{"name":"dots"},"transform":[{"filter":"datum.s==='T'"},{"flatten":["b"]}],"mark":{"type":"circle","size":17,"opacity":1,"color":"#A4D9F6","clip":true},
     "encoding":{"x":{"field":"t","type":"temporal","title":null},"y":{"field":"b","type":"quantitative","title":"推定誤差 [%]"}}},
    {"data":{"name":"zero"},"mark":{"type":"rule","color":"#7F7F7F","strokeDash":[2,2],"strokeWidth":1},
     "encoding":{"y":{"field":"v","type":"quantitative","title":"推定誤差 [%]"}}},
    {"data":{"name":"sq"},"transform":[{"filter":"datum.s==='T'"}],"mark":{"type":"errorbar","color":"#FF8A8A","thickness":1.2},
     "encoding":{"x":{"field":"t","type":"temporal","title":null},"y":{"field":"r","type":"quantitative","title":"推定誤差 [%]"},"yError":{"field":"rs"}}},
    {"data":{"name":"sq"},"transform":[{"filter":"datum.s==='T'"}],"mark":{"type":"errorbar","color":"#4A86E8","thickness":1.2},
     "encoding":{"x":{"field":"t","type":"temporal","title":null},"y":{"field":"b","type":"quantitative","title":"推定誤差 [%]"},"yError":{"field":"bs"}}},
    {"data":{"name":"sq"},"transform":[{"filter":"datum.s==='T'"}],"mark":{"type":"point","shape":"square","size":13,"strokeWidth":1.6,"stroke":"#FF0000","fill":"#FFFFFF","opacity":1},
     "encoding":{"x":{"field":"t","type":"temporal","title":null},"y":{"field":"r","type":"quantitative","title":"推定誤差 [%]"}}},
    {"data":{"name":"sq"},"transform":[{"filter":"datum.s==='T'"}],"mark":{"type":"point","shape":"square","size":13,"strokeWidth":1.6,"stroke":"#0000FF","fill":"#FFFFFF","opacity":1},
     "encoding":{"x":{"field":"t","type":"temporal","title":null},"y":{"field":"b","type":"quantitative","title":"推定誤差 [%]"}}}
   ]},
  {"width":289,"height":180,"title":"Lamont",
   "layer":[
    {"data":{"name":"grid"},"mark":{"type":"rule","color":"#A0A0A0","strokeWidth":1.3},
     "encoding":{"x":{"field":"t","type":"temporal","title":null,"scale":{"type":"utc","domain":[{"year":2008,"month":1,"date":1,"utc":true},{"year":2018,"month":1,"date":1,"utc":true}]}}}},
    {"data":{"name":"dots"},"transform":[{"filter":"datum.s==='L'"},{"flatten":["r"]}],"mark":{"type":"circle","size":17,"opacity":1,"color":"#FFB2C2","clip":true},
     "encoding":{"x":{"field":"t","type":"temporal","title":null},"y":{"field":"r","type":"quantitative","title":null,"scale":{"domain":[-2,2],"nice":false}}}},
    {"data":{"name":"dots"},"transform":[{"filter":"datum.s==='L'"},{"flatten":["b"]}],"mark":{"type":"circle","size":17,"opacity":1,"color":"#A4D9F6","clip":true},
     "encoding":{"x":{"field":"t","type":"temporal","title":null},"y":{"field":"b","type":"quantitative","title":null}}},
    {"data":{"name":"zero"},"mark":{"type":"rule","color":"#7F7F7F","strokeDash":[2,2],"strokeWidth":1},
     "encoding":{"y":{"field":"v","type":"quantitative","title":null}}},
    {"data":{"name":"sq"},"transform":[{"filter":"datum.s==='L'"}],"mark":{"type":"errorbar","color":"#FF8A8A","thickness":1.2},
     "encoding":{"x":{"field":"t","type":"temporal","title":null},"y":{"field":"r","type":"quantitative","title":null},"yError":{"field":"rs"}}},
    {"data":{"name":"sq"},"transform":[{"filter":"datum.s==='L'"}],"mark":{"type":"errorbar","color":"#4A86E8","thickness":1.2},
     "encoding":{"x":{"field":"t","type":"temporal","title":null},"y":{"field":"b","type":"quantitative","title":null},"yError":{"field":"bs"}}},
    {"data":{"name":"sq"},"transform":[{"filter":"datum.s==='L'"}],"mark":{"type":"point","shape":"square","size":13,"strokeWidth":1.6,"stroke":"#FF0000","fill":"#FFFFFF","opacity":1},
     "encoding":{"x":{"field":"t","type":"temporal","title":null},"y":{"field":"r","type":"quantitative","title":null}}},
    {"data":{"name":"sq"},"transform":[{"filter":"datum.s==='L'"}],"mark":{"type":"point","shape":"square","size":13,"strokeWidth":1.6,"stroke":"#0000FF","fill":"#FFFFFF","opacity":1},
     "encoding":{"x":{"field":"t","type":"temporal","title":null},"y":{"field":"b","type":"quantitative","title":null}}}
   ]}
 ],"spacing":17},
 {"hconcat":[
  {"width":106,"height":18,"view":{"stroke":null},"data":{"name":"leg"},"transform":[{"filter":"datum.grp!=='mon'"}],
   "mark":{"type":"text","align":"left","baseline":"middle","fontSize":11,"font":"Noto Sans CJK JP, sans-serif"},
   "encoding":{
    "x":{"field":"grp","type":"nominal","scale":{"type":"point","domain":["pre","post","obs"],"padding":0},"axis":null},
    "y":{"field":"ln","type":"nominal","scale":{"type":"point","domain":["1","2"],"padding":0},"axis":null},
    "text":{"field":"item"},
    "color":{"field":"grp","type":"nominal","scale":{"domain":["pre","post","obs"],"range":["#FF0000","#0000FF","#000000"]},"legend":null}}},
  {"width":1,"height":18,"view":{"stroke":null},"data":{"name":"leg"},"transform":[{"filter":"datum.grp==='mon'"}],
   "encoding":{"y":{"field":"ln","type":"nominal","scale":{"type":"point","domain":["1","2"],"padding":0},"axis":null}},
   "layer":[
    {"mark":{"type":"text","align":"left","baseline":"middle","fontSize":11,"font":"Noto Sans CJK JP, sans-serif","color":"#000"},"encoding":{"text":{"field":"item"}}},
    {"transform":[{"filter":"datum.ln==='1'"}],"mark":{"type":"point","shape":"square","size":49,"strokeWidth":2,"stroke":"#000","fill":"#FFF","opacity":1,"xOffset":-6}}
   ]}
 ],"spacing":8}
],
"spacing":23
}
